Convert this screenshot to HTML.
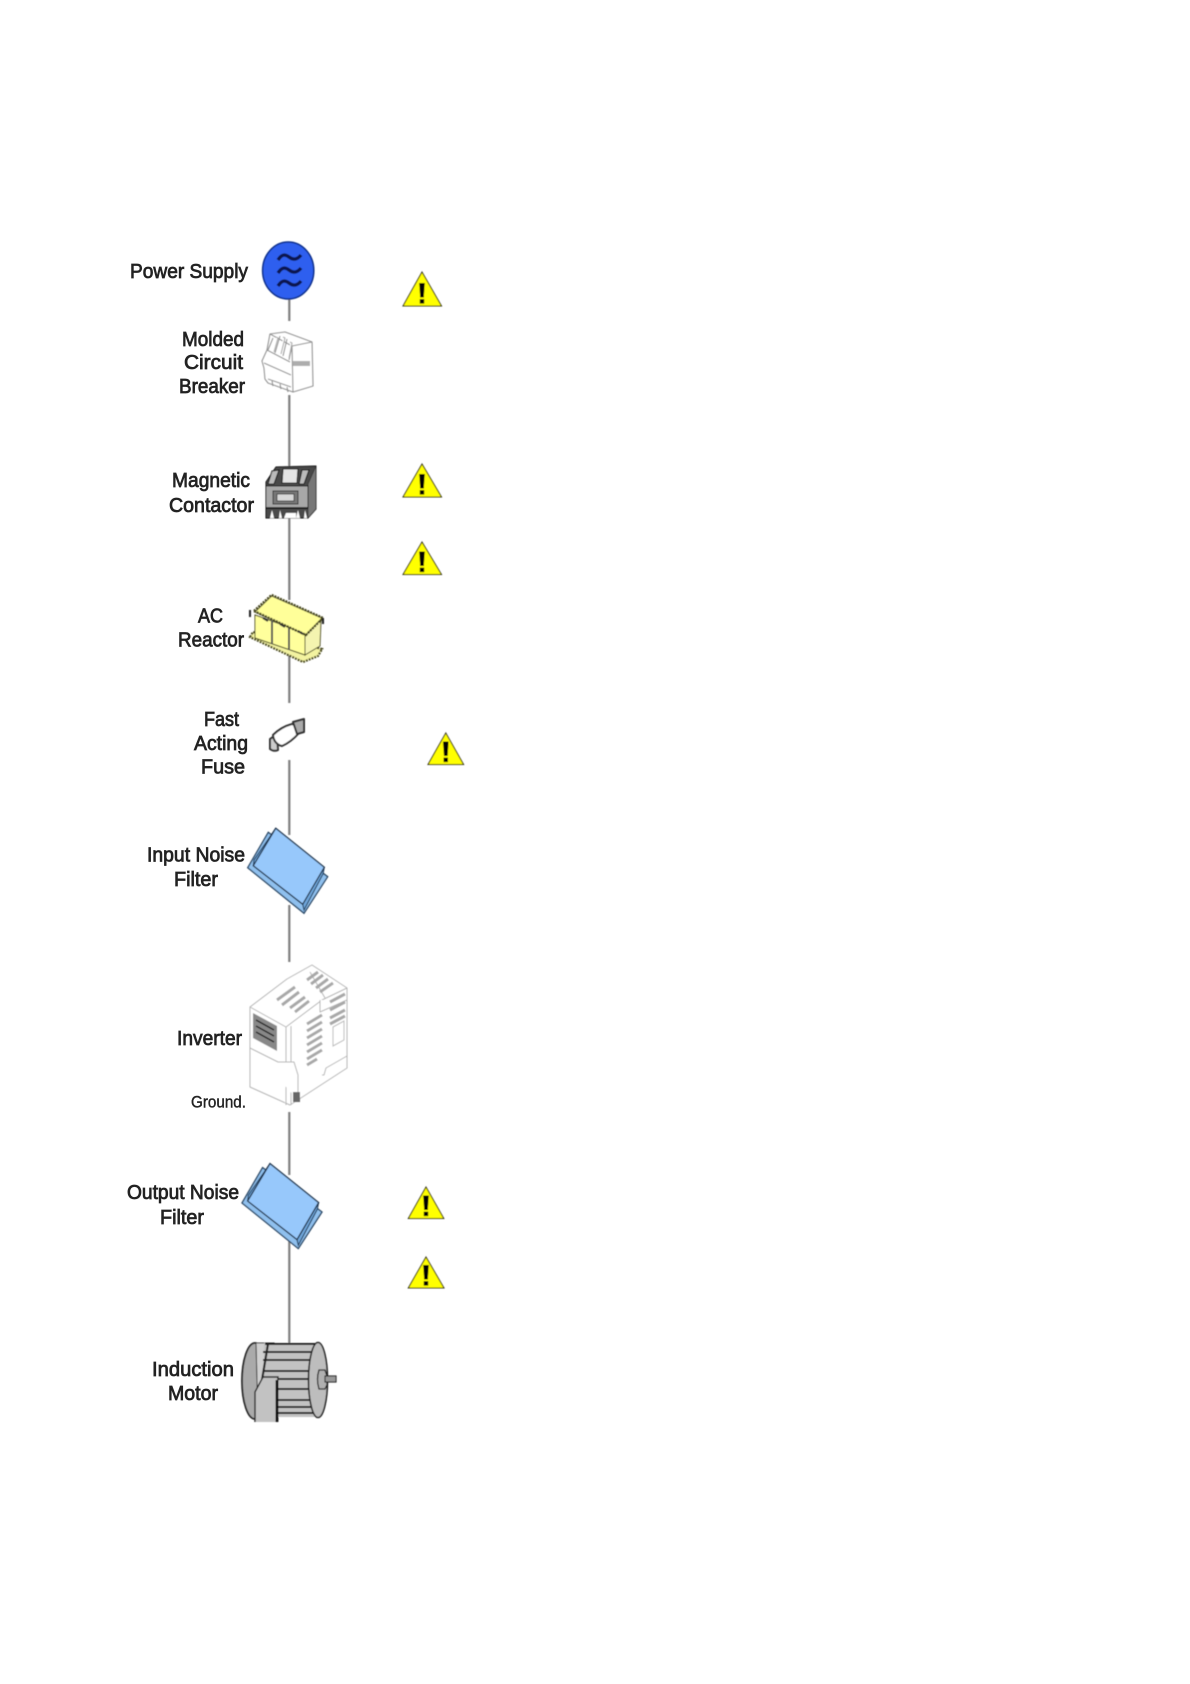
<!DOCTYPE html>
<html lang="en"><head><meta charset="utf-8"><title>Inverter wiring diagram</title>
<style>
html,body{margin:0;padding:0;background:#fff}
svg{display:block}
text{font-family:"Liberation Sans",Arial,sans-serif;font-size:20.5px;fill:#222;stroke:#222;stroke-width:.75px}
</style></head><body>
<svg width="1190" height="1684" viewBox="0 0 1190 1684" xmlns="http://www.w3.org/2000/svg">
<defs>
<filter id="b" x="-5%" y="-5%" width="110%" height="110%"><feGaussianBlur stdDeviation="0.45"/></filter>
<filter id="t" x="-5%" y="-20%" width="110%" height="140%"><feGaussianBlur stdDeviation="0.35"/></filter>
<clipPath id="mc"><rect x="230" y="1330" width="120" height="92"/></clipPath>
<g id="flt">
<polygon points="268.3,832.3 247.7,867.7 304,913.3 327.7,876.7" fill="#8fc0ee" stroke="#24415f" stroke-width="1.3"/>
<polygon points="275.7,828.3 324.3,867.3 323,874 304,910 302.7,904.3 253.3,865.7 254,860" fill="#6fa6da" stroke="#24415f" stroke-width="1.1"/>
<polygon points="275.7,828.3 324.3,867.3 302.7,904.3 253.3,865.7" fill="#97c8fb" stroke="#1f3048" stroke-width="1.3"/>
</g>
<g id="ex"><polygon points="-2.8,-23 2.8,-23 1.8,-8.5 -1.8,-8.5" fill="#000"/><rect x="-2.2" y="-6.8" width="4.4" height="4.4" fill="#000"/></g>
</defs>

<g filter="url(#b)">
<!-- wire -->
<g stroke="#7f7f7f" stroke-width="2.2" fill="none">
<path d="M289.3 299V321M289.3 395V470M289.3 515V600M289.3 655V703M289.3 760V835M289.3 905V962M289.3 1112V1175M289.3 1240V1345"/>
</g>

<!-- power supply -->
<ellipse cx="288.2" cy="270.5" rx="25.6" ry="28.5" fill="#2f5fef" stroke="#0e2f8a" stroke-width="1.5"/>
<g fill="none" stroke="#0a1550" stroke-width="3.4">
<path d="M278 260c4-6 7-6 11-3s8 3 12-2"/>
<path d="M278 273c4-6 7-6 11-3s8 3 12-2"/>
<path d="M278 286c4-6 7-6 11-3s8 3 12-2"/>
</g>

<!-- breaker -->
<g fill="#fff" stroke="#8f8f8f" stroke-width="1.1" stroke-linejoin="round">
<path d="M270 334L285 332L312 342L313 386L293 392L268 383L265 379L264 368L262 361L267 350Z"/>
<path d="M292 346L293 392M292 346L312 342M270 334L292 346" />
<path d="M267 350L290 362M264 363L291 375M268 379L291 387"/>
<path d="M273 338L268 350M280 336L275 353M287 339L283 356M292 346L289 360"/>
<path d="M276 337l2 1-4 14M283 337l2 1-4 16M290 342l2 1-3 15" stroke="#aaa"/>
<path d="M272 381l1 5M280 384l1 5M287 387l1 5"/>
</g>
<rect x="293" y="361" width="17" height="5" fill="#999" opacity=".8"/>

<!-- contactor -->
<polygon points="266,482 276,467 316,466 316,509 308,518 266,518" fill="#4a4a4a" stroke="#111" stroke-width="1"/>
<polygon points="308,484 316,466 316,509 308,518" fill="#777" stroke="#333" stroke-width=".8"/>
<polygon points="283,469 298,469 297,483 282,483" fill="#e4e4e4" stroke="#111"/>
<polygon points="272,471 279,470 274,484 268,484" fill="#bbb" stroke="#111"/>
<polygon points="302,470 309,470 304,484 299,484" fill="#bbb" stroke="#111"/>
<rect x="266" y="486" width="42" height="22" fill="#a8a8a8" stroke="#111" stroke-width="1"/>
<rect x="273" y="491" width="25" height="13" fill="#777" stroke="#333" stroke-width="1"/>
<rect x="277" y="494" width="17" height="7" fill="#d8d8d8" stroke="#333" stroke-width=".8"/>
<path d="M266 508h42" stroke="#000" stroke-width="1.5"/>
<g fill="#fff"><polygon points="270,518 272,510 274,518"/><polygon points="279,518 280,510 282,518"/><polygon points="296,518 298,510 300,518"/><polygon points="304,518 305,510 307,518"/><polygon points="284,518 286,513 296,513 296,518"/></g>

<!-- reactor -->
<g stroke="#4a4a20" stroke-width="1">
<polygon points="250,637 253,632 322,649 318,656 303,662" fill="#f3f3a0" stroke-width="2.2" stroke-dasharray="2 1"/>
<polygon points="255,615 305,633 305,655 255,638" fill="#ffff9c"/>
<path d="M272 621V644M289 627V650" stroke="#555" stroke-width="2" fill="none"/>
<polygon points="305,633 321,620 320,646 305,655" fill="#f4f4b0"/>
<polygon points="271.7,596 322,618 306,635 255,612" fill="#ffff99" stroke-width="1"/>
<path d="M271.7 595L323 618M254 611L306 635L323 618M254 611L271.7 595" fill="none" stroke="#4a4a20" stroke-width="2.4" stroke-dasharray="2 1"/>
<path d="M250 610v7M323 618v6" stroke="#222" stroke-width="2"/>
<path d="M263 618l5 3M280 624l5 3M298 631l5 3" stroke="#333" stroke-width="2"/>
</g>

<!-- fuse -->
<g stroke="#333" stroke-width="2" stroke-linejoin="round">
<path d="M270 739q4-3 7-3l1 14q-4 2-8-1Z" fill="#ccc"/>
<path d="M273 735q8-8 19-11q7 2 7 9q-8 9-17 13q-8-2-9-11Z" fill="#fff"/>
<polygon points="293,722 304,719 304,732 297,734" fill="#aaa"/>
</g>

<!-- filters -->
<use href="#flt"/>
<use href="#flt" transform="translate(-5.7,335.3)"/>

<!-- inverter -->
<g fill="#fff" stroke="#b4b4b4" stroke-width="1" stroke-linejoin="round">
<path d="M250 1007L287 979L312 965L347 988V1068L290 1105L250 1087Z"/>
<path d="M250 1007L286 1027V1105M291 1026V1105M286 1027L322 1000L347 988"/>
<path d="M250 1048L278 1062H294L298 1075V1100"/>
<path d="M320 1000V1012L347 1000M310 972L325 998"/>
<path d="M322 1075L324 1075L326 1068L347 1056"/>
</g>
<g stroke="#a8a8a8" stroke-width="3" fill="none">
<path d="M277 1000l18-13M282 1005l17-13M290 1008l15-11M295 1012l14-11"/>
<path d="M307 980l11-8M311 984l12-9M316 988l12-9M320 992l13-9"/>
<path d="M307 1024l15-9M307 1031l15-9M307 1038l15-9M307 1045l15-9M307 1052l15-9M307 1059l15-9M307 1065l10-6"/>
<path d="M330 1002l15-8M330 1010l15-8M330 1018l15-8M330 1024l15-8"/>
</g>
<polygon points="253,1013 277,1026 277,1051 253,1038" fill="#888"/>
<g stroke="#222" stroke-width="1.5" fill="none"><path d="M256 1020l18 10M256 1026l18 10M256 1032l18 10"/></g>
<polygon points="333,1027 344,1021 344,1040 333,1046" fill="#fff" stroke="#bbb"/>
<rect x="293" y="1092" width="7" height="10" fill="#666"/>

<!-- motor -->
<g clip-path="url(#mc)">
<ellipse cx="255" cy="1381" rx="13" ry="38" fill="#aaa" stroke="#222" stroke-width="1.8"/>
<path d="M256 1343H274L266 1380V1418H258Z" fill="#d0d0d0" stroke="#333"/>
<rect x="264" y="1343" width="54" height="74" fill="#c2c2c2"/>
<g stroke="#1a1a1a" stroke-width="2"><path d="M265 1344H318M263 1352H316M263 1360H316M263 1371H316M263 1379H316M263 1389H316M263 1400H316M263 1407H316M263 1413H316"/></g>
<path d="M268 1344L262 1380L270 1418" fill="none" stroke="#222" stroke-width="2.2"/>
<ellipse cx="318" cy="1380" rx="9.5" ry="37.5" fill="#bdbdbd" stroke="#222" stroke-width="1.6"/>
<path d="M319 1370h6l2 6v9l-2 4h-6q-3-10 0-19Z" fill="#b0b0b0" stroke="#222" stroke-width="1.3"/>
<rect x="325" y="1376" width="11" height="6" fill="#999" stroke="#222" stroke-width="1.1"/>
<polygon points="255,1392 263,1377 278,1377 276,1425 255,1425" fill="#c2c2c2" stroke="#222" stroke-width="1.4"/>
<path d="M277 1380V1425" stroke="#111" stroke-width="2.8"/>
</g>

<!-- warning triangles -->
<g fill="#ffff00" stroke="#333318" stroke-width="1">
<polygon points="422,272 403,306 441.5,306"/>
<polygon points="422,464 403,497 441.5,497"/>
<polygon points="422,542 403,574.5 441.5,574.5"/>
<polygon points="445.8,733 428,764.5 463.6,764.5"/>
<polygon points="426,1187 408.3,1218.5 443.8,1218.5"/>
<polygon points="426,1257 408.3,1288 444,1288"/>
</g>
<use href="#ex" x="422" y="306"/>
<use href="#ex" x="422" y="497"/>
<use href="#ex" x="422" y="574.5"/>
<use href="#ex" x="445.8" y="764.5"/>
<use href="#ex" x="426" y="1218.5"/>
<use href="#ex" x="426" y="1288"/>
</g>

<!-- labels -->
<g filter="url(#t)">
<text x="130" y="278" textLength="118" lengthAdjust="spacingAndGlyphs">Power Supply</text>
<text x="182" y="346" textLength="62" lengthAdjust="spacingAndGlyphs">Molded</text>
<text x="184" y="369" textLength="59" lengthAdjust="spacingAndGlyphs">Circuit</text>
<text x="179" y="393" textLength="66" lengthAdjust="spacingAndGlyphs">Breaker</text>
<text x="172" y="487" textLength="78" lengthAdjust="spacingAndGlyphs">Magnetic</text>
<text x="169" y="512" textLength="85" lengthAdjust="spacingAndGlyphs">Contactor</text>
<text x="198" y="622.5" textLength="25" lengthAdjust="spacingAndGlyphs">AC</text>
<text x="178" y="646.5" textLength="66" lengthAdjust="spacingAndGlyphs">Reactor</text>
<text x="204" y="726" textLength="35" lengthAdjust="spacingAndGlyphs">Fast</text>
<text x="194" y="750" textLength="54" lengthAdjust="spacingAndGlyphs">Acting</text>
<text x="201" y="773.5" textLength="44" lengthAdjust="spacingAndGlyphs">Fuse</text>
<text x="147" y="861.5" textLength="98" lengthAdjust="spacingAndGlyphs">Input Noise</text>
<text x="174" y="886" textLength="44" lengthAdjust="spacingAndGlyphs">Filter</text>
<text x="177" y="1045" textLength="65" lengthAdjust="spacingAndGlyphs">Inverter</text>
<text x="191" y="1107.5" textLength="55" lengthAdjust="spacingAndGlyphs" style="font-size:17px;stroke-width:.4px">Ground.</text>
<text x="127" y="1199" textLength="112" lengthAdjust="spacingAndGlyphs">Output Noise</text>
<text x="160" y="1224" textLength="44" lengthAdjust="spacingAndGlyphs">Filter</text>
<text x="152" y="1384" textLength="82" lengthAdjust="spacingAndGlyphs" transform="translate(0,-8)">Induction</text>
<text x="168" y="1400" textLength="50" lengthAdjust="spacingAndGlyphs">Motor</text>
</g>
</svg>
</body></html>
